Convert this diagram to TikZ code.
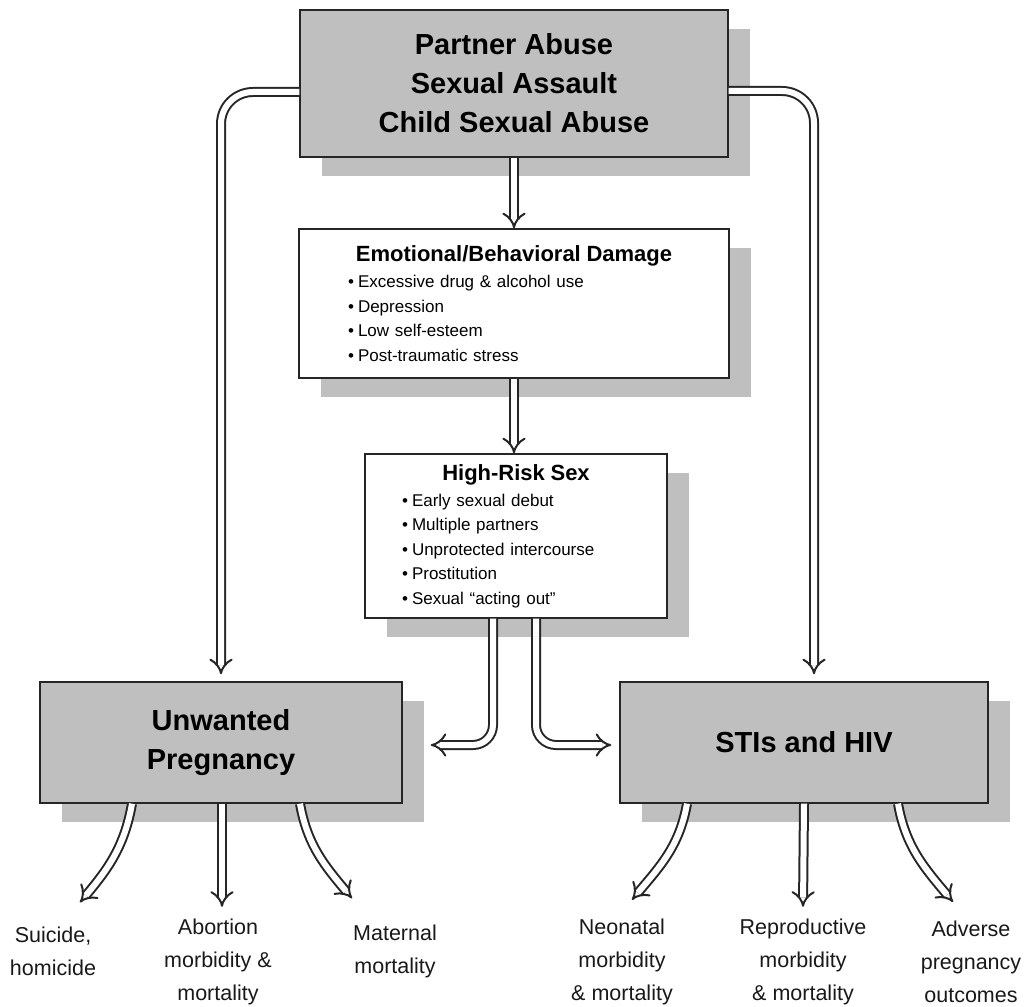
\documentclass[tikz,border=0pt]{standalone}
\usepackage{fontspec}
\setmainfont{Liberation Sans}
\usetikzlibrary{arrows.meta,shadows}

\tikzset{
  greybox/.style={draw=black!85, line width=1.4pt, fill=black!25, inner sep=0pt,
    general shadow={fill=black!25, shadow xshift=22pt, shadow yshift=-19pt},
    font=\fontsize{29}{39}\selectfont\bfseries, align=center},
  whitebox/.style={draw=black!85, line width=1.4pt, fill=white, inner xsep=12pt, inner ysep=0pt,
    general shadow={fill=black!25, shadow xshift=22pt, shadow yshift=-19pt},
    font=\fontsize{17}{22}\selectfont, align=left},
  pipe/.style={draw=black!85, line width=2pt, double=white, double distance=6pt, -{Implies}},
  outcome/.style={font=\fontsize{21.5}{33}\selectfont, align=center, inner sep=0pt, text=black!90}
}

\begin{document}
\begin{tikzpicture}[x=1pt,y=1pt]
\useasboundingbox (0,0) rectangle (1027,-1006);

% boxes
\node[greybox, minimum width=428pt, minimum height=147pt] (abuse) at (514,-83.5)
  {Partner Abuse\\Sexual Assault\\Child Sexual Abuse};

\node[whitebox, text width=406pt, minimum height=149pt] (damage) at (514,-303.5) {
  {\centering\fontsize{22}{26}\selectfont\bfseries Emotional/Behavioral Damage\par}
  \setlength{\leftmargini}{47pt}\setlength{\labelsep}{4pt}\setlength{\partopsep}{-4pt}
  \begin{itemize}\setlength{\itemsep}{2.5pt}\setlength{\parskip}{0pt}
    \item Excessive drug \& alcohol use
    \item Depression
    \item Low self-esteem
    \item Post-traumatic stress
  \end{itemize}
};

\node[whitebox, text width=278pt, minimum height=164pt] (risk) at (516,-536) {
  {\centering\fontsize{22}{26}\selectfont\bfseries High-Risk Sex\par}
  \setlength{\leftmargini}{35pt}\setlength{\labelsep}{4pt}\setlength{\partopsep}{-4pt}
  \begin{itemize}\setlength{\itemsep}{2.5pt}\setlength{\parskip}{0pt}
    \item Early sexual debut
    \item Multiple partners
    \item Unprotected intercourse
    \item Prostitution
    \item Sexual ``acting out''
  \end{itemize}
};

\node[greybox, minimum width=362pt, minimum height=121pt] (unwanted) at (221,-742.5)
  {Unwanted\\Pregnancy};
\node[greybox, minimum width=368pt, minimum height=121pt] (stis) at (804,-742.5)
  {STIs and HIV};

% outcomes
\node[outcome] (suicide) at (53,-951) {Suicide,\\homicide};
\node[outcome] (abortion) at (218,-962) {Abortion\\morbidity \&\\mortality};
\node[outcome] (maternal) at (395,-951) {Maternal\\mortality};
\node[outcome] (neonatal) at (622,-962) {Neonatal\\morbidity\\\& mortality};
\node[outcome] (reproductive) at (803,-962) {Reproductive\\morbidity\\\& mortality};
\node[outcome] (adverse) at (971,-962) {Adverse\\pregnancy\\outcomes};

% pipes
\draw[pipe] (abuse.south) -- (damage.north);
\draw[pipe] (damage.south) -- (damage.south |- risk.north);
\draw[pipe, rounded corners=32pt, shorten >=7pt] ([yshift=-8.5pt]abuse.west) -| (unwanted.north);
\draw[pipe, rounded corners=32pt, shorten >=7pt] ([yshift=-7.5pt]abuse.east) -| ([xshift=10pt]stis.north);
\draw[pipe, rounded corners=20pt] ([xshift=-23pt]risk.south) |- ([xshift=28pt,yshift=-2.5pt]unwanted.east);
\draw[pipe, rounded corners=20pt] ([xshift=20pt]risk.south) |- ([xshift=-8pt,yshift=-2.5pt]stis.west);

\draw[pipe] ([xshift=-89pt]unwanted.south) to[out=-100,in=50] ([xshift=27pt,yshift=24pt]suicide.north);
\draw[pipe] ([xshift=1pt]unwanted.south) -- ([xshift=4pt,yshift=12pt]abortion.north);
\draw[pipe] ([xshift=79pt]unwanted.south) to[out=-80,in=130] ([xshift=-43pt,yshift=26pt]maternal.north);
\draw[pipe] ([xshift=-117pt]stis.south) to[out=-100,in=50] ([xshift=10pt,yshift=19pt]neonatal.north);
\draw[pipe] (stis.south) -- ([yshift=12pt]reproductive.north);
\draw[pipe] ([xshift=94pt]stis.south) to[out=-80,in=130] ([xshift=-18pt,yshift=19pt]adverse.north);
\end{tikzpicture}
\end{document}
